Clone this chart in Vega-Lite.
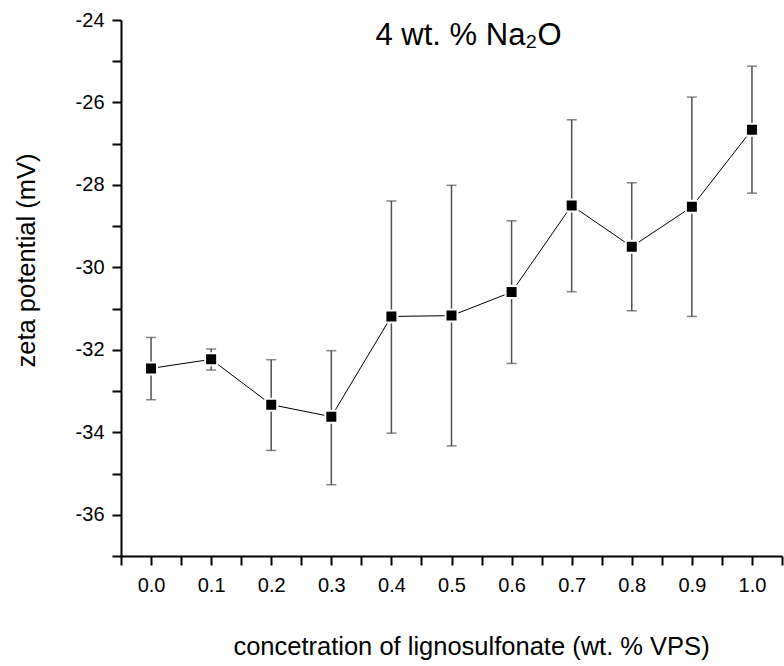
{
  "$schema": "https://vega.github.io/schema/vega-lite/v6.json",
  "width": 661,
  "height": 536,
  "autosize": {"type": "none"},
  "padding": {"left": 121, "top": 20, "right": 2, "bottom": 110},
  "background": "white",
  "title": {
    "text": "4 wt. % Na₂O",
    "font": "Liberation Sans",
    "fontSize": 31,
    "fontWeight": "normal",
    "color": "black",
    "anchor": "middle",
    "dx": 17,
    "baseline": "alphabetic",
    "offset": -66
  },
  "data": {
    "values": [
      {"c": 0.0, "z": -32.45, "lo": -33.21, "hi": -31.70},
      {"c": 0.1, "z": -32.23, "lo": -32.49, "hi": -31.98},
      {"c": 0.2, "z": -33.33, "lo": -34.44, "hi": -32.24},
      {"c": 0.3, "z": -33.62, "lo": -35.27, "hi": -32.02},
      {"c": 0.4, "z": -31.19, "lo": -34.02, "hi": -28.39},
      {"c": 0.5, "z": -31.17, "lo": -34.33, "hi": -28.01},
      {"c": 0.6, "z": -30.60, "lo": -32.33, "hi": -28.87},
      {"c": 0.7, "z": -28.50, "lo": -30.59, "hi": -26.42},
      {"c": 0.8, "z": -29.50, "lo": -31.05, "hi": -27.95},
      {"c": 0.9, "z": -28.53, "lo": -31.19, "hi": -25.87},
      {"c": 1.0, "z": -26.66, "lo": -28.20, "hi": -25.12}
    ]
  },
  "encoding": {
    "x": {
      "field": "c",
      "type": "quantitative",
      "scale": {"domain": [-0.05, 1.05], "nice": false, "zero": false},
      "axis": {
        "title": "concetration of lignosulfonate (wt. % VPS)",
        "values": [-0.05, 0, 0.05, 0.1, 0.15, 0.2, 0.25, 0.3, 0.35, 0.4, 0.45, 0.5, 0.55, 0.6, 0.65, 0.7, 0.75, 0.8, 0.85, 0.9, 0.95, 1.0, 1.05],
        "labelExpr": "round(datum.value*100) % 10 === 0 ? format(datum.value, '.1f') : ''",
        "labelOverlap": false,
        "labelFlush": false,
        "labelBound": false,
        "labelFont": "Liberation Sans",
        "labelFontSize": 20,
        "labelColor": "black",
        "labelPadding": 10,
        "tickSize": 9,
        "tickWidth": 2,
        "tickColor": "black",
        "domainColor": "black",
        "domainWidth": 2,
        "grid": false,
        "titleFont": "Liberation Sans",
        "titleFontSize": 25.5,
        "titleFontWeight": "normal",
        "titleColor": "black",
        "titleBaseline": "alphabetic",
        "titleX": 350,
        "titleY": 98,
        "encode": {
          "ticks": {"update": {"y2": {"signal": "round(datum.value*100) % 10 === 0 ? 9 : 5"}}}
        }
      }
    },
    "y": {
      "type": "quantitative",
      "scale": {"domain": [-37, -24], "nice": false, "zero": false},
      "axis": {
        "title": "zeta potential (mV)",
        "values": [-37, -36, -35, -34, -33, -32, -31, -30, -29, -28, -27, -26, -25, -24],
        "labelExpr": "abs(datum.value) % 2 === 0 ? '' + datum.value : ''",
        "labelOverlap": false,
        "labelFlush": false,
        "labelBound": false,
        "labelFont": "Liberation Sans",
        "labelFontSize": 20,
        "labelColor": "black",
        "labelPadding": 8,
        "tickSize": 9,
        "tickWidth": 2,
        "tickColor": "black",
        "domainColor": "black",
        "domainWidth": 2,
        "grid": false,
        "titleFont": "Liberation Sans",
        "titleFontSize": 25.5,
        "titleFontWeight": "normal",
        "titleColor": "black",
        "titleBaseline": "alphabetic",
        "titleX": -87,
        "titleY": 240,
        "encode": {
          "ticks": {"update": {"x2": {"signal": "abs(datum.value) % 2 === 0 ? -9 : -5"}}}
        }
      }
    }
  },
  "layer": [
    {
      "mark": {"type": "errorbar", "ticks": {"size": 10, "thickness": 1.5, "color": "#505050"}, "rule": {"strokeWidth": 1.5, "color": "#505050"}},
      "encoding": {
        "y": {"field": "lo", "type": "quantitative"},
        "y2": {"field": "hi"}
      }
    },
    {
      "mark": {"type": "line", "color": "black", "strokeWidth": 1},
      "encoding": {"y": {"field": "z", "type": "quantitative"}}
    },
    {
      "mark": {"type": "point", "shape": "square", "filled": true, "size": 144, "color": "black", "stroke": "white", "strokeWidth": 2, "opacity": 1},
      "encoding": {"y": {"field": "z", "type": "quantitative"}}
    }
  ],
  "config": {"view": {"stroke": null}}
}
